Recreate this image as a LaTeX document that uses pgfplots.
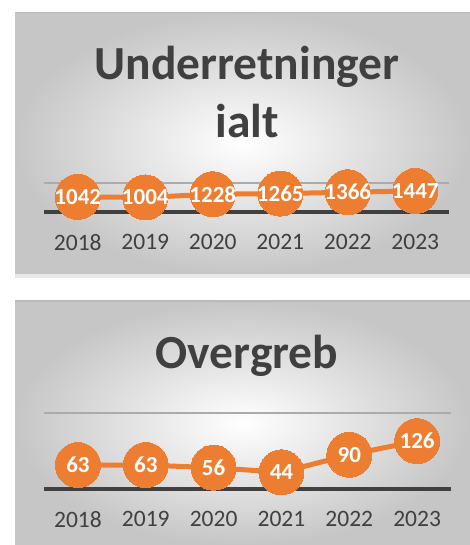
\documentclass[border=0pt]{standalone}
\usepackage{pgfplots}
\pgfplotsset{compat=1.18}
\usepackage{fontspec}
\setmainfont{Carlito}

\definecolor{xlorange}{HTML}{ED7D31}
\definecolor{xldark}{HTML}{404040}
\definecolor{xlgrid}{HTML}{ABABAB}
\definecolor{xledge}{HTML}{C6C6C6}

\pgfplotsset{
  panel/.style={
    scale only axis,
    clip=false,
    xmin=0, xmax=6,
    ymin=0,
    xtick={0.5,1.5,2.5,3.5,4.5,5.5},
    xticklabels={2018,2019,2020,2021,2022,2023},
    major tick length=0pt,
    axis x line*=bottom,
    axis y line*=left,
    y axis line style={draw=none},
    x axis line style={-, line width=3.5pt, color=xldark},
    yticklabel=\empty,
    ymajorgrids,
    grid style={line width=1.8pt, color=xlgrid},
    xticklabel style={font=\fontsize{23.5}{27}\selectfont, text=xldark, yshift=-19pt},
    /pgf/number format/.cd, 1000 sep={}, assume math mode=true,
    /pgfplots/.cd,
    nodes near coords,
    every node near coord/.append style={anchor=center, text=white,
      font=\bfseries\fontsize{23}{26}\selectfont},
  },
  orangeline/.style={
    draw=xlorange, line width=5pt, mark=*, mark size=22.5pt,
    mark options={fill=xlorange, draw=xlorange, line width=0pt},
  },
}

\begin{document}
\begin{tikzpicture}[x=1pt,y=1pt]
\useasboundingbox (0,0) rectangle (470,545);

% top panel background
\shade[inner color=white, outer color=xledge] (15,271) rectangle (470,532.5);
\draw[color=xledge!85!black!80, line width=1.5pt] (15,532.5) -- (470,532.5);
\fill[color=black!9] (15,267) rectangle (470,271);

% bottom panel background
\shade[inner color=white, outer color=xledge] (15,0) rectangle (470,244);
\draw[color=xledge!85!black!80, line width=1.5pt] (15,244) -- (470,244);

\node[font=\bfseries\fontsize{47.5}{50}\selectfont, text=xldark] at (247,478) {Underretninger};
\node[font=\bfseries\fontsize{47.5}{50}\selectfont, text=xldark] at (247,424) {ialt};
\node[font=\bfseries\fontsize{47.5}{50}\selectfont, text=xldark] at (247,189) {Overgreb};

\begin{axis}[panel, at={(44pt,333pt)}, anchor=south west,
  width=405pt, height=29pt, ymax=2000, ytick={2000}]
\addplot[orangeline] coordinates {(0.5,1042) (1.5,1004) (2.5,1228) (3.5,1265) (4.5,1366) (5.5,1447)};
\end{axis}

\begin{axis}[panel, at={(44pt,56pt)}, anchor=south west,
  width=407pt, height=76pt, ymax=200, ytick={200}]
\addplot[orangeline] coordinates {(0.5,63) (1.5,63) (2.5,56) (3.5,44) (4.5,90) (5.5,126)};
\end{axis}
\end{tikzpicture}
\end{document}
